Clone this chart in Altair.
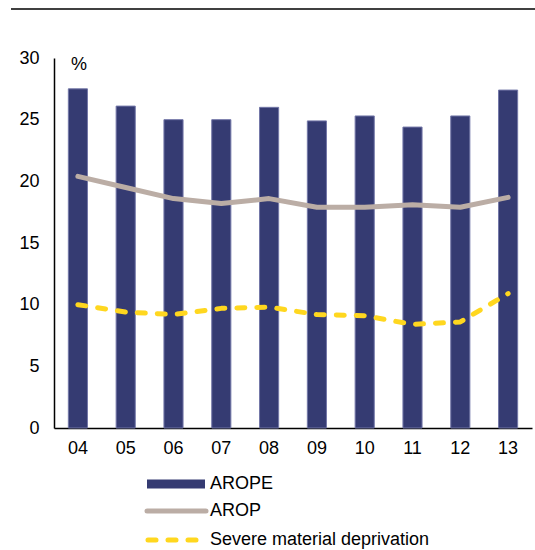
import altair as alt
import pandas as pd

years = ["04", "05", "06", "07", "08", "09", "10", "11", "12", "13"]
arope = [27.5, 26.1, 25.0, 25.0, 26.0, 24.9, 25.3, 24.4, 25.3, 27.4]
arop = [20.4, 19.5, 18.6, 18.2, 18.6, 17.9, 17.9, 18.1, 17.9, 18.7]
smd = [10.0, 9.4, 9.2, 9.7, 9.8, 9.2, 9.1, 8.4, 8.6, 10.9]

legend_labels = ["AROPE", "AROP", "Severe material deprivation"]

NAVY = "#353B72"
TAUPE = "#BBADA5"
YELLOW = "#FFD71F"
FONT = "Liberation Sans"
FS = 18

df = pd.DataFrame({"year": years, "AROPE": arope, "AROP": arop, "SMD": smd})

W, H = 478, 370

x = alt.X(
    "year:N",
    sort=years,
    scale=alt.Scale(paddingInner=0.6, paddingOuter=0.3),
    axis=alt.Axis(
        title=None, labelAngle=0, ticks=False, domainColor="black",
        labelFont=FONT, labelFontSize=FS, labelColor="black", labelPadding=11,
    ),
)
yscale = alt.Scale(domain=[0, 30], nice=False)
yaxis = alt.Axis(
    title=None, values=[0, 5, 10, 15, 20, 25, 30], ticks=False, grid=False,
    domainColor="black", labelFont=FONT, labelFontSize=FS, labelColor="black",
    labelPadding=15,
)

base = alt.Chart(df)

bars = base.mark_bar(color=NAVY, stroke="#7377A8", strokeWidth=1).encode(
    x=x, y=alt.Y("AROPE:Q", scale=yscale, axis=yaxis)
)
arop_line = base.mark_line(
    color=TAUPE, strokeWidth=5, strokeCap="round", strokeJoin="round"
).encode(x=x, y=alt.Y("AROP:Q", scale=yscale))
smd_line = base.mark_line(
    color=YELLOW, strokeWidth=5, strokeDash=[8, 12],
    strokeCap="round", strokeJoin="round",
).encode(x=x, y=alt.Y("SMD:Q", scale=yscale))

# unit label inside the plot
pct = alt.Chart(pd.DataFrame({"t": ["%"]})).mark_text(
    font=FONT, fontSize=FS, color="black", align="left", baseline="middle"
).encode(text="t:N", x=alt.value(17), y=alt.value(7))

# header rule above the chart
header = alt.Chart(pd.DataFrame({"k": [0]})).mark_rule(
    color="black", strokeWidth=1.5
).encode(x=alt.value(-43), x2=alt.value(481), y=alt.value(-49))

# legend below the plot
leg_df = pd.DataFrame({"label": legend_labels})
row_y = [426, 453, 482]

leg_bar = alt.Chart(leg_df.iloc[[0]]).mark_rule(
    color=NAVY, strokeWidth=9
).encode(x=alt.value(93), x2=alt.value(151), y=alt.value(row_y[0]))
leg_arop = alt.Chart(leg_df.iloc[[1]]).mark_rule(
    color=TAUPE, strokeWidth=5, strokeCap="round"
).encode(x=alt.value(93), x2=alt.value(152), y=alt.value(row_y[1]))
leg_smd = alt.Chart(leg_df.iloc[[2]]).mark_rule(
    color=YELLOW, strokeWidth=5, strokeCap="round", strokeDash=[8, 12]
).encode(x=alt.value(94), x2=alt.value(142), y=alt.value(row_y[2]))

leg_texts = [
    alt.Chart(leg_df.iloc[[i]]).mark_text(
        font=FONT, fontSize=FS, color="black", align="left", baseline="middle"
    ).encode(text="label:N", x=alt.value(156), y=alt.value(row_y[i]))
    for i in range(3)
]

chart = (
    alt.layer(bars, arop_line, smd_line, pct, header, leg_bar, leg_arop, leg_smd, *leg_texts)
    .properties(
        width=W, height=H,
        autosize=alt.AutoSizeParams(type="none"),
        padding={"left": 54, "top": 58, "right": 3, "bottom": 122},
        background="white",
    )
    .configure_view(stroke=None)
    .configure_axis(domainWidth=1.5)
)

chart.save("out.html", embed_options={"renderer": "svg", "actions": False})
